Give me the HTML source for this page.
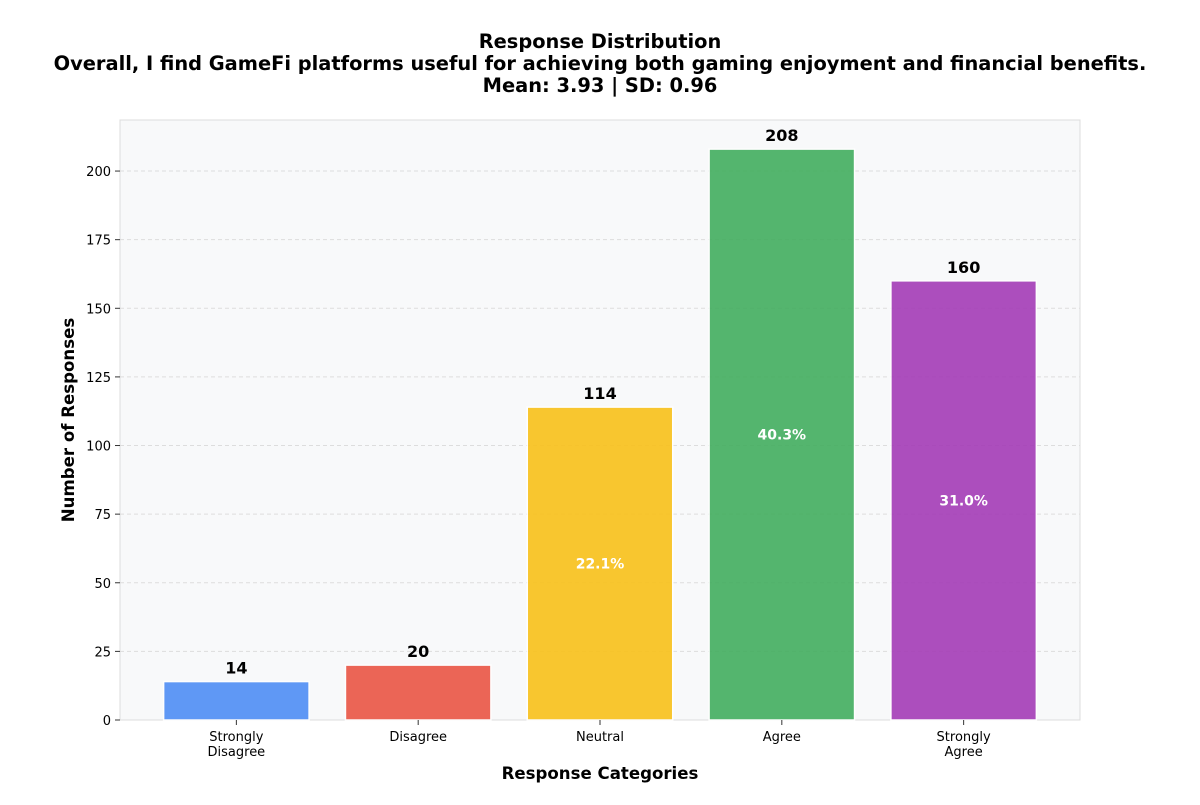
<!DOCTYPE html>
<html><head><meta charset="utf-8"><style>
body{margin:0;background:#fff;font-family:"Liberation Sans","DejaVu Sans",sans-serif}
</style></head><body>
<svg id="chart" width="1200" height="800" xmlns="http://www.w3.org/2000/svg" font-family="DejaVu Sans, Liberation Sans, sans-serif">
<g font-weight="bold" font-size="19.4" text-anchor="middle" fill="#000">
<text x="600" y="48">Response Distribution</text>
<text x="600" y="70">Overall, I find GameFi platforms useful for achieving both gaming enjoyment and financial benefits.</text>
<text x="600" y="92">Mean: 3.93 | SD: 0.96</text>
</g>
<rect x="120" y="120" width="960" height="600" fill="#f8f9fa" stroke="#dddddd"/>
<g id="grid"></g><g id="bars"></g><g id="axes"></g>
<text transform="translate(74,420) rotate(-90)" text-anchor="middle" font-size="16.6" font-weight="bold">Number of Responses</text>
<text x="600" y="779" text-anchor="middle" font-size="16.6" font-weight="bold">Response Categories</text>
</svg>
<script>
const categories=[["Strongly","Disagree"],["Disagree"],["Neutral"],["Agree"],["Strongly","Agree"]];
const counts=[14,20,114,208,160];
const colors=["#4f8ef5","#ea5545","#f9c11a","#43ae5f","#a43cb7"];
const yTicks=[0,25,50,75,100,125,150,175,200];
const NS="http://www.w3.org/2000/svg";
const X0=120,X1=1080,Y0=720,Y1=120,yMax=218.6,xMin=-0.64,xMax=4.64;
const y=v=>Y0-(v/yMax)*(Y0-Y1);
const x=i=>X0+(i-xMin)/(xMax-xMin)*(X1-X0);
const bw=0.8*(x(1)-x(0));
function mk(t,a,p){const e=document.createElementNS(NS,t);for(const k in a)e.setAttribute(k,a[k]);p.appendChild(e);return e;}
const grid=document.getElementById('grid'),bars=document.getElementById('bars'),axes=document.getElementById('axes');
yTicks.forEach(v=>{
 if(v>0){const g=mk('line',{x1:X0,x2:X1,y1:y(v),y2:y(v),stroke:'#dddddd','stroke-dasharray':'4,3'},grid);
 
 }
 mk('line',{x1:X0-5,x2:X0,y1:y(v),y2:y(v),stroke:'#333'},axes);
 const t=mk('text',{x:X0-9,y:y(v)+5,'text-anchor':'end','font-size':13},axes);t.textContent=v;
 
 
});
const total=counts.reduce((a,b)=>a+b,0);
counts.forEach((c,i)=>{
 const r=mk('rect',{x:x(i)-bw/2,y:y(c),width:bw,height:y(0)-y(c),fill:colors[i],stroke:'#fff','stroke-width':1.5,opacity:0.9},bars);
 
 
 const l=mk('text',{x:x(i),y:y(c)-8,'text-anchor':'middle','font-size':16,'font-weight':'bold'},bars);l.textContent=c;
 
 
 const pct=c/total*100;
 if(pct>10){const p=mk('text',{x:x(i),y:y(c/2)+5,'text-anchor':'middle','font-size':14,'font-weight':'bold',fill:'#fff'},bars);p.textContent=pct.toFixed(1)+'%';
 
 }
 mk('line',{x1:x(i),x2:x(i),y1:Y0,y2:Y0+5,stroke:'#333'},axes);
 categories[i].forEach((s,j)=>{const t=mk('text',{x:x(i),y:Y0+21+j*15,'text-anchor':'middle','font-size':13},axes);t.textContent=s;
 
 });
});
</script>
</body></html>
